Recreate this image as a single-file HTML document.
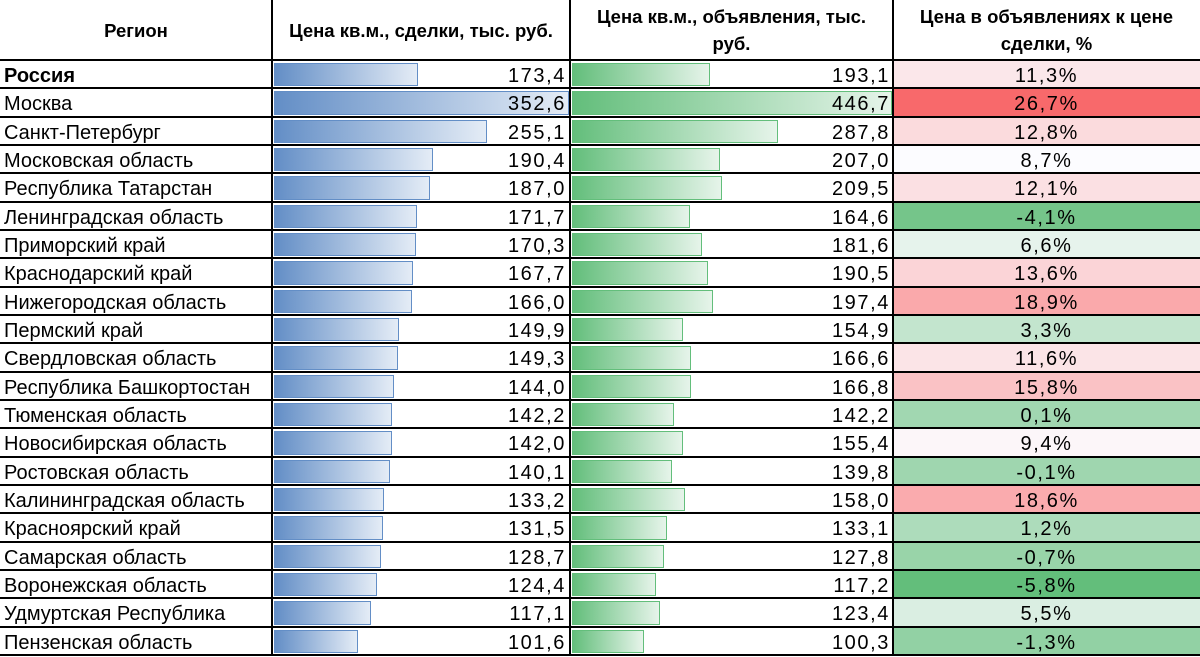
<!DOCTYPE html>
<html><head><meta charset="utf-8"><style>
body{margin:0;width:1200px;height:657px;background:#fff;overflow:hidden;font-family:"Liberation Sans",sans-serif;position:relative}
.a{position:absolute;box-sizing:border-box}
.h{font-weight:bold;font-size:18.5px;display:flex;align-items:center;justify-content:center;text-align:center;line-height:27px;color:#000}
.t{font-size:20px;color:#000;line-height:28px;white-space:nowrap;padding-top:2px}
.n{letter-spacing:1.6px}
.vl{position:absolute;top:0;width:2px;height:656px;background:#000}
.hl{position:absolute;left:0;width:1200px;height:2px;background:#000}
</style></head><body>
<div class="a h" style="left:0;top:0;width:272px;height:60px">Регион</div>
<div class="a h" style="left:272px;top:0;width:298px;height:60px">Цена кв.м., сделки, тыс. руб.</div>
<div class="a h" style="left:570px;top:0;width:323px;height:60px;padding:0 8px">Цена кв.м., объявления, тыс.<br>руб.</div>
<div class="a h" style="left:893px;top:0;width:307px;height:60px;padding:0 8px">Цена в объявлениях к цене<br>сделки, %</div>
<div id="g"></div>
<script>
var d=[["Россия",173.4,193.1,11.3],["Москва",352.6,446.7,26.7],["Санкт-Петербург",255.1,287.8,12.8],["Московская область",190.4,207.0,8.7],["Республика Татарстан",187.0,209.5,12.1],["Ленинградская область",171.7,164.6,-4.1],["Приморский край",170.3,181.6,6.6],["Краснодарский край",167.7,190.5,13.6],["Нижегородская область",166.0,197.4,18.9],["Пермский край",149.9,154.9,3.3],["Свердловская область",149.3,166.6,11.6],["Республика Башкортостан",144.0,166.8,15.8],["Тюменская область",142.2,142.2,0.1],["Новосибирская область",142.0,155.4,9.4],["Ростовская область",140.1,139.8,-0.1],["Калининградская область",133.2,158.0,18.6],["Красноярский край",131.5,133.1,1.2],["Самарская область",128.7,127.8,-0.7],["Воронежская область",124.4,117.2,-5.8],["Удмуртская Республика",117.1,123.4,5.5],["Пензенская область",101.6,100.3,-1.3]];
function f(v){return v.toFixed(1).replace('.',',')}
function mix(a,b,t){return 'rgb('+a.map(function(x,i){return Math.round(x+(b[i]-x)*t)}).join(',')+')'}
var G=[99,190,123],W=[252,252,255],R=[248,105,107],h='';
var rh=28.33;
for(var i=0;i<d.length;i++){var r=d[i],y=60+i*rh;
var v=r[3],c=v<8.7?mix(G,W,(v+5.8)/14.5):mix(W,R,(v-8.7)/18);
h+='<div class="a" style="left:893px;top:'+y+'px;width:307px;height:'+rh+'px;background:'+c+'"></div>';
h+='<div class="a t" style="left:4px;top:'+y+'px;'+(i==0?'font-weight:bold':'')+'">'+r[0]+'</div>';
h+='<div class="a" style="left:274px;top:'+(y+3)+'px;height:'+(rh-5)+'px;width:'+(r[1]*0.84-1.4)+'px;border:1px solid #638ec6;background:linear-gradient(90deg,#638ec6,#e4ecf6)"></div>';
h+='<div class="a t n" style="left:272px;width:294px;text-align:right;top:'+y+'px">'+f(r[1])+'</div>';
h+='<div class="a" style="left:572px;top:'+(y+3)+'px;height:'+(rh-5)+'px;width:'+(r[2]*0.716)+'px;border:1px solid #63be7b;background:linear-gradient(90deg,#63be7b,#e6f4ea)"></div>';
h+='<div class="a t n" style="left:570px;width:320px;text-align:right;top:'+y+'px">'+f(r[2])+'</div>';
h+='<div class="a t n" style="left:893px;width:307px;text-align:center;top:'+y+'px">'+f(v)+'%</div>';
h+='<div class="hl" style="top:'+(y-1)+'px"></div>';}
h+='<div class="hl" style="top:654px"></div>';
[271,569,892].forEach(function(x){h+='<div class="vl" style="left:'+x+'px"></div>'});
document.getElementById('g').innerHTML=h;
</script>
</body></html>
